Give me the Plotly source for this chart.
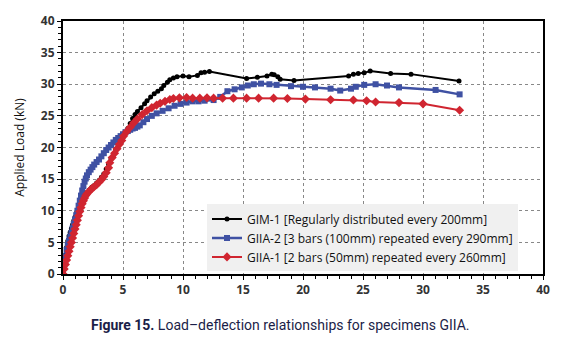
import plotly.graph_objects as go

# GIM-1 (black)
gim1_x = [0, 0.1, 0.2, 0.3, 0.4, 0.5, 0.6, 0.7, 0.8, 0.9, 1.0, 1.15, 1.3, 1.45, 1.6, 1.8, 2.0, 2.2, 2.4, 2.6, 2.8, 3.0, 3.2, 3.4, 3.6, 3.8, 4.0, 4.2, 4.4, 4.6, 4.8, 5.0, 5.2, 5.4, 5.6, 5.8, 6.0, 6.2, 6.5, 6.8, 7.0, 7.3, 7.6, 7.9, 8.2, 8.4, 8.7, 8.9, 9.2, 9.5, 10.0, 10.5, 11.2, 11.5, 11.8, 12.2, 15.3, 16.2, 17.0, 17.4, 17.6, 17.9, 18.1, 19.25, 23.8, 24.2, 24.6, 25.1, 25.6, 27.3, 29.0, 33.0]
gim1_y = [0, 1.5, 3.0, 4.2, 5.2, 6.0, 6.6, 7.2, 7.8, 8.4, 9.0, 9.8, 10.6, 11.3, 11.9, 12.4, 12.9, 13.3, 13.7, 14.0, 14.4, 14.8, 15.3, 15.8, 16.6, 17.4, 18.2, 18.9, 19.7, 20.4, 21.0, 21.6, 22.3, 23.0, 23.8, 24.6, 25.2, 25.7, 26.3, 26.9, 27.4, 28.0, 28.5, 28.9, 29.3, 29.8, 30.3, 30.7, 31.0, 31.2, 31.3, 31.2, 31.4, 31.8, 31.9, 32.0, 30.9, 31.1, 31.3, 31.6, 31.5, 31.2, 30.8, 30.6, 31.3, 31.6, 31.7, 31.8, 32.1, 31.7, 31.6, 30.5]

# GIIA-2 (blue)
giia2_x = [0, 0.1, 0.2, 0.3, 0.4, 0.5, 0.6, 0.7, 0.8, 0.9, 1.0, 1.1, 1.2, 1.3, 1.4, 1.5, 1.6, 1.7, 1.8, 1.9, 2.0, 2.15, 2.3, 2.45, 2.6, 2.8, 3.0, 3.2, 3.4, 3.6, 3.8, 4.0, 4.2, 4.4, 4.6, 4.8, 5.0, 5.2, 5.4, 5.6, 5.8, 6.0, 6.2, 6.4, 6.7, 7.0, 7.4, 7.8, 8.3, 8.8, 9.3, 9.8, 10.3, 10.8, 11.3, 11.8, 12.55, 13.1, 13.7, 14.3, 14.9, 15.4, 15.9, 16.5, 17.2, 17.8, 19.0, 20.0, 21.0, 22.3, 23.1, 24.0, 24.4, 25.1, 26.05, 27.0, 28.0, 31.05, 33.05]
giia2_y = [0, 1.5, 2.8, 3.8, 4.6, 5.3, 5.9, 6.5, 7.2, 7.9, 8.6, 9.3, 10.0, 10.8, 11.6, 12.4, 13.2, 13.9, 14.6, 15.1, 15.6, 16.1, 16.5, 16.9, 17.3, 17.7, 18.1, 18.6, 19.1, 19.6, 20.0, 20.4, 20.8, 21.2, 21.5, 21.8, 22.1, 22.4, 22.6, 22.8, 23.0, 23.1, 23.3, 23.5, 24.0, 24.5, 25.0, 25.4, 25.8, 26.2, 26.6, 26.9, 27.1, 27.3, 27.3, 27.4, 27.5, 28.0, 28.9, 29.2, 29.5, 29.8, 30.0, 30.1, 30.0, 29.9, 29.7, 29.6, 29.5, 29.3, 29.0, 29.3, 29.6, 29.9, 30.0, 29.8, 29.5, 29.1, 28.4]

# GIIA-1 (red)
giia1_x = [0, 0.1, 0.2, 0.3, 0.4, 0.5, 0.6, 0.7, 0.8, 0.9, 1.0, 1.1, 1.2, 1.3, 1.4, 1.5, 1.6, 1.7, 1.8, 1.9, 2.0, 2.2, 2.4, 2.6, 2.8, 3.0, 3.2, 3.4, 3.6, 3.8, 3.9, 4.1, 4.3, 4.5, 4.7, 4.9, 5.05, 5.3, 5.6, 5.9, 6.2, 6.6, 7.0, 7.4, 7.8, 8.1, 8.5, 8.9, 9.2, 9.7, 10.3, 10.8, 11.4, 12.0, 12.55, 13.3, 14.2, 15.3, 16.3, 17.55, 18.7, 20.2, 22.3, 24.2, 25.3, 26.05, 28.0, 30.0, 33.05]
giia1_y = [0, 0.8, 1.5, 2.2, 2.9, 3.6, 4.3, 5.0, 5.7, 6.4, 7.1, 7.8, 8.5, 9.2, 9.9, 10.5, 11.1, 11.6, 12.0, 12.4, 12.7, 13.1, 13.5, 13.8, 14.1, 14.5, 14.9, 15.4, 16.0, 16.8, 17.6, 18.4, 19.1, 19.8, 20.5, 21.1, 21.8, 22.5, 23.2, 23.9, 24.5, 25.2, 25.8, 26.3, 26.7, 27.0, 27.3, 27.6, 27.75, 27.85, 27.9, 27.8, 27.8, 27.85, 27.8, 27.8, 27.8, 27.8, 27.8, 27.8, 27.75, 27.65, 27.55, 27.5, 27.4, 27.2, 27.1, 26.9, 25.9]

names = ["GIM-1 [Regularly distributed every 200mm]",
         "GIIA-2 [3 bars (100mm) repeated every 290mm]",
         "GIIA-1 [2 bars (50mm) repeated every 260mm]"]
x_ticks = [0, 5, 10, 15, 20, 25, 30, 35, 40]
y_ticks = [0, 5, 10, 15, 20, 25, 30, 35, 40]

fig = go.Figure()
fig.add_trace(go.Scatter(x=gim1_x, y=gim1_y, name=names[0], mode="lines+markers",
                         line=dict(color="#000000", width=2),
                         marker=dict(symbol="circle", size=5, color="#000000")))
fig.add_trace(go.Scatter(x=giia2_x, y=giia2_y, name=names[1], mode="lines+markers",
                         line=dict(color="#3F51A3", width=2.5),
                         marker=dict(symbol="square", size=6, color="#3F51A3")))
fig.add_trace(go.Scatter(x=giia1_x, y=giia1_y, name=names[2], mode="lines+markers",
                         line=dict(color="#D02530", width=2),
                         marker=dict(symbol="diamond", size=7, color="#D02530")))

tickfont = dict(family="Open Sans, DejaVu Sans, sans-serif", size=12, color="#333333", weight="bold")

fig.update_layout(
    width=564, height=343,
    margin=dict(l=63, r=21, t=16, b=69),
    paper_bgcolor="white", plot_bgcolor="white",
    showlegend=True,
    legend=dict(x=0.30, y=0.275, xanchor="left", yanchor="top",
                bgcolor="#F0F0F0", borderwidth=0,
                font=dict(family="Open Sans, sans-serif", size=12, color="#111111"),
                tracegroupgap=0, itemwidth=30),
    xaxis=dict(range=[0, 40], tickvals=x_ticks, ticktext=[str(v) for v in x_ticks],
               showline=True, linecolor="black", linewidth=2, mirror=True,
               showgrid=True, gridcolor="#888888", griddash="dot", gridwidth=1,
               ticks="outside", ticklen=4, tickcolor="black", tickwidth=1,
               minor=dict(dtick=1, ticks="outside", ticklen=3, tickcolor="black", showgrid=False),
               tickfont=tickfont, zeroline=False),
    yaxis=dict(range=[0, 40], tickvals=y_ticks, ticktext=[str(v) for v in y_ticks],
               showline=True, linecolor="black", linewidth=2, mirror=True,
               showgrid=True, gridcolor="#888888", griddash="dot", gridwidth=1,
               ticks="outside", ticklen=4, tickcolor="black", tickwidth=1,
               minor=dict(dtick=1, ticks="outside", ticklen=3, tickcolor="black", showgrid=False),
               tickfont=tickfont, zeroline=False,
               title=dict(text="Applied Load (kN)", standoff=14,
                          font=dict(family="Open Sans, sans-serif", size=12, color="#111111"))),
    xaxis2=dict(range=[0, 40], overlaying="x", side="bottom", showticklabels=False,
                showgrid=False, zeroline=False, ticks="inside", ticklen=3, dtick=1,
                tickcolor="black", showline=False),
    yaxis2=dict(range=[0, 40], overlaying="y", side="left", showticklabels=False,
                showgrid=False, zeroline=False, ticks="inside", ticklen=3, dtick=1,
                tickcolor="black", showline=False),
)

fig.add_annotation(
    xref="paper", yref="paper", x=0.452, y=-0.163, xanchor="center", yanchor="top",
    text="<b>Figure 15.</b> Load\u2013deflection relationships for specimens GIIA.",
    showarrow=False,
    font=dict(family="Roboto, sans-serif", size=14, color="#1B1E48"))

fig.write_html("out.html")
